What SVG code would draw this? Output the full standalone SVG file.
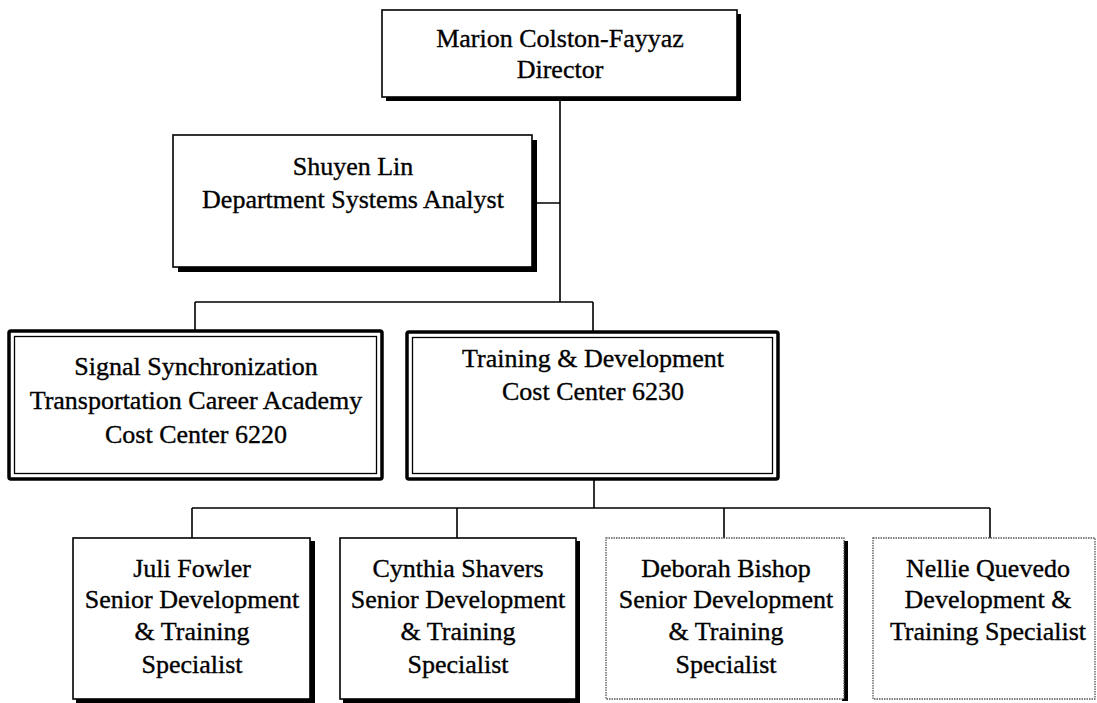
<svg xmlns="http://www.w3.org/2000/svg" width="1097" height="703" viewBox="0 0 1097 703">
<style>
text{font-family:"Liberation Serif","Times New Roman",serif;font-size:26px;fill:#000;stroke:#000;stroke-width:0.35;text-anchor:middle}
.frame{fill:#fff;stroke:#000;stroke-width:1.6}
.shadow{fill:#000}
.outer{fill:#fff;stroke:#000;stroke-width:3.5}
.inner{fill:none;stroke:#000;stroke-width:1.3}
.grey{fill:#fff;stroke:#555;stroke-width:1.3;stroke-dasharray:1.5 1}
.conn{fill:none;stroke:#000;stroke-width:1.6}
</style>
<rect width="1097" height="703" fill="#fff"/>
<g id="connectors">
<path class="conn" d="M560 99V302M537 203H560M195 302H593M195 302V330M593 302V331M594 480V508M192 508H990M192 508V538M457 508V538M724 508V538M990 508V538"/>
</g>
<g id="director">
<rect class="shadow" x="386" y="14" width="355" height="87"/>
<rect class="frame" x="382" y="10" width="355" height="87"/>
<text x="560" y="47">Marion Colston-Fayyaz</text>
<text x="560" y="78">Director</text>
</g>
<g id="shuyen">
<rect class="shadow" x="178" y="140" width="359" height="132"/>
<rect class="frame" x="173" y="135" width="359" height="132"/>
<text x="353" y="175">Shuyen Lin</text>
<text x="353" y="208">Department Systems Analyst</text>
</g>
<g id="signal">
<rect class="outer" x="9" y="331" width="373" height="148" rx="2"/>
<rect class="inner" x="14.5" y="336.5" width="362" height="137"/>
<text x="196" y="375">Signal Synchronization</text>
<text x="196" y="409">Transportation Career Academy</text>
<text x="196" y="443">Cost Center 6220</text>
</g>
<g id="training">
<rect class="outer" x="407" y="332" width="371" height="147" rx="2"/>
<rect class="inner" x="412.5" y="337.5" width="360" height="136"/>
<text x="593" y="367">Training &amp; Development</text>
<text x="593" y="400">Cost Center 6230</text>
</g>
<g id="juli">
<rect class="shadow" x="76" y="541" width="239" height="164"/>
<rect class="frame" x="73" y="538" width="237" height="161"/>
<text x="192" y="577">Juli Fowler</text>
<text x="192" y="608">Senior Development</text>
<text x="192" y="640">&amp; Training</text>
<text x="192" y="673">Specialist</text>
</g>
<g id="cynthia">
<rect class="shadow" x="343" y="541" width="237" height="164"/>
<rect class="frame" x="340" y="538" width="236" height="161"/>
<text x="458" y="577">Cynthia Shavers</text>
<text x="458" y="608">Senior Development</text>
<text x="458" y="640">&amp; Training</text>
<text x="458" y="673">Specialist</text>
</g>
<g id="deborah">
<rect class="shadow" x="842" y="541" width="6" height="160"/>
<rect class="grey" x="606" y="538" width="238" height="161"/>
<text x="726" y="577">Deborah Bishop</text>
<text x="726" y="608">Senior Development</text>
<text x="726" y="640">&amp; Training</text>
<text x="726" y="673">Specialist</text>
</g>
<g id="nellie">
<rect class="grey" x="873" y="538" width="222" height="161"/>
<text x="988" y="577">Nellie Quevedo</text>
<text x="988" y="608">Development &amp;</text>
<text x="988" y="640">Training Specialist</text>
</g>
</svg>
